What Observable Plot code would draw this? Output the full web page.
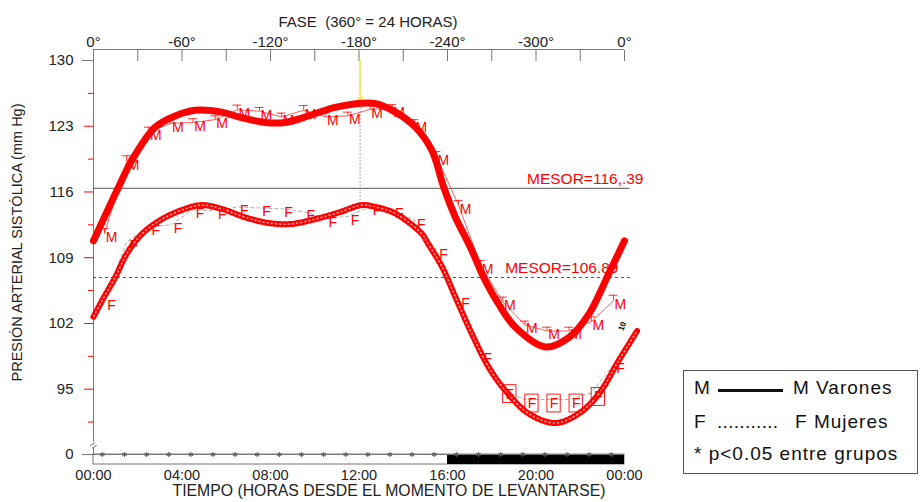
<!DOCTYPE html>
<html><head><meta charset="utf-8">
<script src="https://cdn.jsdelivr.net/npm/d3@7"></script>
<script src="https://cdn.jsdelivr.net/npm/@observablehq/plot@0.6"></script>
<style>
body{margin:0;background:#fff;font-family:"Liberation Sans",Arial,sans-serif;}
#wrap{position:relative;width:920px;height:502px;overflow:hidden;}
#legend{position:absolute;left:683px;top:370px;width:235px;height:104px;border:1.5px solid #555;box-sizing:border-box;font-size:19px;color:#111;}
.lg{position:absolute;white-space:nowrap;letter-spacing:1px;line-height:22px;}
.ln{position:absolute;height:3px;background:#111;}
</style></head><body><div id="wrap"><div id="chart"></div><div id="legend"></div></div>
<script>
// ---- data ----
const hoursFitM = [0,1.13,1.73,2.79,3.69,4.6,5.8,6.55,7.76,8.66,9.72,10.92,12.13,12.75,13.65,14.55,15.3,15.83,16.36,17.04,17.7,18.3,19.07,20.43,21.48,22.39,23.29,24];
const fitM      = [110.8,116.5,119.35,122.9,124.1,124.7,124.5,124.0,123.4,123.4,124.1,125.0,125.45,125.4,124.5,122.9,120.4,116.5,113.3,110.1,106.6,104.1,101.6,99.5,100.5,103.0,107.3,110.8];
const hoursFitF = [0,0.38,0.98,1.5,2.18,3.09,4.14,4.9,5.8,6.86,7.9,8.96,10.0,11.07,12.13,12.75,13.65,14.86,15.08,15.76,16.36,17.1,17.87,18.6,19.67,20.88,21.93,22.84,23.74,24.57];
const fitF      = [102.7,104.4,106.9,109.4,111.5,113.1,114.2,114.6,114.2,113.3,112.7,112.6,113.1,113.8,114.6,114.4,113.7,111.5,110.65,108.0,104.8,100.9,97.3,94.9,92.4,91.4,92.4,94.5,98.05,101.2];
const slotHours = [0.5,1.5,2.5,3.5,4.5,5.5,6.5,7.5,8.5,9.5,10.5,11.5,12.5,13.5,14.5,15.5,16.5,17.5,18.5,19.5,20.5,21.5,22.5,23.5];
const meanM = [111.6,119.25,122.4,123.3,123.4,123.7,124.75,124.6,124.0,124.7,124.0,124.1,124.8,124.9,123.3,119.8,114.6,108.2,104.3,101.85,101.2,101.2,102.2,104.4];
const errM  = [0.5,0.6,0.5,0.4,0.4,0.4,0.5,0.4,0.4,0.5,0.4,0.4,0.5,0.4,0.4,0.5,0.5,0.5,0.5,0.4,0.4,0.4,0.5,0.6];
const meanF = [104.3,110.7,112.3,112.5,114.1,114.0,114.4,114.3,114.2,113.9,113.2,113.4,114.45,114.1,113.0,109.8,104.5,98.65,94.9,93.9,93.9,93.9,94.6,97.6];
const boxF  = [0,0,0,0,0,0,0,0,0,0,0,0,0,0,0,0,0,0,0.95,0.95,0.95,0.95,0.95,0];
const signifHours = [0.4,1.4,2.4,3.4,4.4,5.4,6.4,7.4,8.4,9.4,10.4,11.4,12.4,13.4,14.4,15.4,16.4,17.4,18.4,19.4,20.4,21.4,22.4,23.4];
const mesorM = 116.39, mesorF = 106.89;
const mesorLabels = ["MESOR=116,.39", "MESOR=106.89"];
const acrophase = 12.05, peakM = 125.6, peakF = 114.7;
const sleep = {start: 16, end: 24};
const phaseTicks = [0,4,8,12,16,20,24];
const phaseLabels = ["0°","-60°","-120°","-180°","-240°","-300°","0°"];
const rulerTicks = [0,2,4,6,8,10,12,14,16,18,20,22,24];
const timeLabels = ["00:00","04:00","08:00","12:00","16:00","20:00","00:00"];
const yTicks = [95,102,109,116,123];
const yMinor = [91.5,98.5,105.5,112.5,119.5,126.5];
const yTop = 130, yZero = 88.04, yBottom = 86.98, yBreak = 89.0;
const topTitle = "FASE  (360° = 24 HORAS)";
const bottomTitle = "TIEMPO (HORAS DESDE EL MOMENTO DE LEVANTARSE)";
const yTitle = "PRESIÓN ARTERIAL SISTÓLICA (mm Hg)";

const fitRowsM = hoursFitM.map((h,i)=>({h, v: fitM[i]}));
const fitRowsF = hoursFitF.map((h,i)=>({h, v: fitF[i]}));
const rowsM = slotHours.map((h,i)=>({h, v: meanM[i], e: errM[i]}));
const rowsF = slotHours.map((h,i)=>({h, v: meanF[i], e: boxF[i]}));

const RED = "#ff0000", GRAY = "#777";
const font = '"Liberation Sans", Arial, sans-serif';

const chart = Plot.plot({
  width: 920, height: 502,
  marginLeft: 93, marginRight: 296, marginTop: 60, marginBottom: 38,
  x: {domain: [0, 24], axis: null},
  y: {domain: [yBottom, yTop], axis: null},
  style: {fontFamily: font, fontSize: "15px", color: "#222", background: "#fff", overflow: "visible"},
  marks: [
    // bottom light/dark strip
    Plot.rect([{a: 0, b: 24}], {x1: "a", x2: "b", y1: yBottom, y2: yZero, fill: "white", stroke: GRAY}),
    Plot.rect([sleep], {x1: "start", x2: "end", y1: yBottom, y2: yZero, fill: "#000"}),
    Plot.ruleY([yZero], {x1: -0.45, x2: 24, stroke: GRAY}),
    Plot.dot(signifHours, {x: d => d, y: yZero, symbol: "asterisk", r: 2.4, stroke: "#555", strokeWidth: 1}),
    // left axis line with break
    Plot.ruleX([0], {y1: yBreak + 0.35, y2: yTop, stroke: GRAY}),
    Plot.ruleX([0], {y1: yZero, y2: yBreak - 0.3, stroke: GRAY}),
    Plot.text(["="], {x: 0, y: yBreak, rotate: -35, fontSize: 12, fill: GRAY}),
    // top ruler
    Plot.ruleY([yTop], {x1: 0, x2: 24, dy: -11, stroke: GRAY}),
    Plot.axisX({anchor: "top", ticks: rulerTicks, tickSize: 11, tickFormat: () => "", stroke: GRAY, label: null}),
    Plot.axisX({anchor: "top", ticks: phaseTicks, tickSize: 0, tickPadding: 14, tickFormat: d => phaseLabels[phaseTicks.indexOf(d)], fontSize: 15, label: null}),
    Plot.axisX({anchor: "bottom", ticks: phaseTicks, tickSize: 0, tickPadding: 5, tickFormat: d => timeLabels[phaseTicks.indexOf(d)], fontSize: 14.5, label: null}),
    // y axis
    Plot.axisY({ticks: [yZero, yTop], tickSize: 11, tickFormat: () => "", stroke: GRAY, label: null}),
    Plot.axisY({ticks: yTicks, tickSize: 9, tickFormat: () => "", stroke: RED, label: null}),
    Plot.axisY({ticks: yMinor, tickSize: 5, tickFormat: () => "", stroke: RED, label: null}),
    Plot.axisY({ticks: [yZero, ...yTicks, yTop], tickSize: 0, tickPadding: 20, tickFormat: d => d < 90 ? "0" : String(d), fontSize: 15, label: null}),
    // titles
    Plot.text([topTitle], {frameAnchor: "top", dy: -44, dx: 9, fontSize: 15}),
    Plot.text([bottomTitle], {frameAnchor: "bottom", dy: 31, dx: 30, fontSize: 15.8}),
    Plot.text([yTitle], {frameAnchor: "left", textAnchor: "middle", rotate: -90, dx: -76, dy: -20, fontSize: 14.5}),
    // MESOR lines
    Plot.ruleY([mesorM], {x1: 0, x2: 24.25, stroke: "#555"}),
    Plot.ruleY([mesorF], {x1: 0, x2: 24.3, stroke: "#555", strokeDasharray: "3,3"}),
    Plot.text([mesorLabels[0]], {x: 24, y: mesorM, dx: 19, dy: -9, textAnchor: "end", fill: RED, fontSize: 15.5}),
    Plot.text([mesorLabels[1]], {x: 24, y: mesorF, dx: -6, dy: -9, textAnchor: "end", fill: RED, fontSize: 15.5}),
    // acrophase markers
    Plot.ruleX([acrophase], {y1: peakF, y2: yTop, stroke: "#888", strokeDasharray: "1.5,2"}),
    Plot.arrow([{x: acrophase}], {x1: "x", x2: "x", y1: yTop, y2: peakM, stroke: "#f2e84a", strokeWidth: 1.2, headLength: 7}),
    // hourly means
    Plot.line(rowsF, {x: "h", y: "v", stroke: "#999", strokeWidth: 0.8, strokeDasharray: "3,3"}),
    Plot.rect(rowsF.filter(d => d.e > 0), {x1: d => d.h - 0.3, x2: d => d.h + 0.3, y1: d => d.v - d.e, y2: d => d.v + d.e, dx: 7, dy: 4, stroke: RED, strokeWidth: 0.9, fill: "none"}),
    Plot.line(rowsM, {x: "h", y: "v", stroke: RED, strokeWidth: 0.8, strokeOpacity: 0.8}),
    Plot.ruleX(rowsM, {x: "h", y1: "v", y2: d => d.v + d.e, stroke: RED, strokeWidth: 0.8}),
    Plot.ruleY(rowsM, {y: d => d.v + d.e, x1: d => d.h - 0.2, x2: d => d.h + 0.2, stroke: RED, strokeWidth: 0.8}),
    // fitted curves
    Plot.line(fitRowsF, {x: "h", y: "v", curve: "catmull-rom", stroke: RED, strokeWidth: 6, strokeDasharray: "2.6,1.6"}),
    Plot.line(fitRowsF, {x: "h", y: "v", curve: "catmull-rom", stroke: "#ff9c9c", strokeWidth: 1.6, strokeDasharray: "1,3.2", strokeDashoffset: -0.8}),
    Plot.line(fitRowsM, {x: "h", y: "v", curve: "catmull-rom", stroke: RED, strokeWidth: 7}),
    // labels
    Plot.text(rowsM, {x: "h", y: "v", text: () => "M", dx: 7, dy: 4, fill: RED, fontSize: 14}),
    Plot.text(rowsF, {x: "h", y: "v", text: () => "F", dx: 7, dy: 4, fill: RED, fontSize: 14}),
    Plot.text(["10"], {x: 23.9, y: 101.7, rotate: -70, fontSize: 8, fontWeight: "bold", fill: "#000"})
  ]
});
document.getElementById("chart").appendChild(chart);

// legend
const legend = document.getElementById("legend");
legend.innerHTML = `
  <span class="lg" style="left:10px;top:6px">M</span>
  <span class="ln" style="left:34px;top:18px;width:65px"></span>
  <span class="lg" style="left:109px;top:6px">M Varones</span>
  <span class="lg" style="left:10px;top:40px">F</span>
  <span class="lg" style="left:33px;top:40px;letter-spacing:0.3px">...........</span>
  <span class="lg" style="left:111px;top:40px">F Mujeres</span>
  <span class="lg" style="left:10px;top:72px">* p&lt;0.05 entre grupos</span>`;
</script>
</body></html>
